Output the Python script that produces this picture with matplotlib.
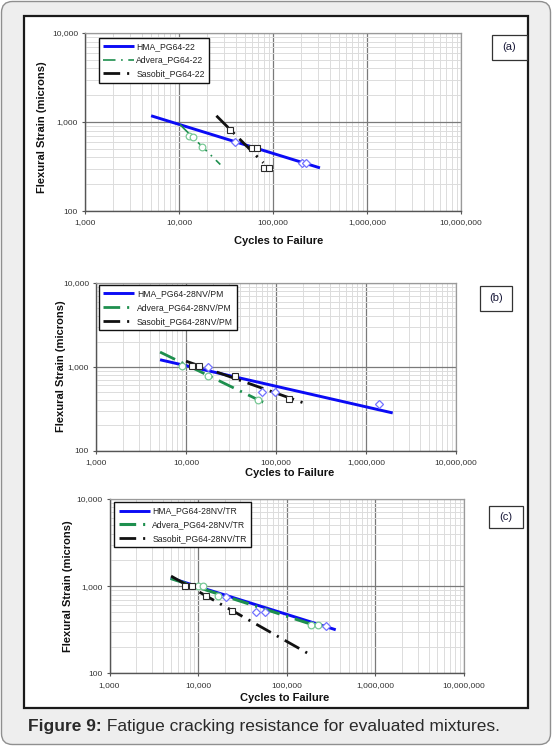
import matplotlib
matplotlib.use('Agg')
import matplotlib.pyplot as plt
from matplotlib.patches import FancyBboxPatch, Rectangle
from matplotlib.ticker import LogLocator, FuncFormatter, NullFormatter
from matplotlib.font_manager import FontProperties, fontManager

# ---------------- data ----------------
# panel (a)
a_hma_line_x = [5050, 316000]
a_hma_line_y = [1175, 305]
a_hma_pts_x = [39300, 202000, 224000]
a_hma_pts_y = [603, 348, 348]
a_adv_line_x = [10240, 27500]
a_adv_line_y = [935, 333]
a_adv_pts_x = [12700, 14200, 17700]
a_adv_pts_y = [705, 674, 521]
a_sas_line_x = [25000, 78900]
a_sas_line_y = [1175, 348]
a_sas_pts_x = [35200, 59400, 68000, 79500, 89800]
a_sas_pts_y = [822, 508, 508, 304, 304]
a_labels = ["HMA_PG64-22", "Advera_PG64-22", "Sasobit_PG64-22"]

# panel (b)
b_hma_line_x = [5150, 1980000]
b_hma_line_y = [1215, 282]
b_hma_pts_x = [17400, 70400, 96600, 1377000]
b_hma_pts_y = [1000, 499, 499, 356]
b_adv_line_x = [5150, 78400]
b_adv_line_y = [1500, 362]
b_adv_pts_x = [9100, 17700, 63100]
b_adv_pts_y = [1030, 778, 407]
b_sas_line_x = [10000, 202000]
b_sas_line_y = [1170, 372]
b_sas_pts_x = [11600, 14100, 34600, 141000]
b_sas_pts_y = [1030, 1030, 778, 412]
b_labels = ["HMA_PG64-28NV/PM", "Advera_PG64-28NV/PM", "Sasobit_PG64-28NV/PM"]

# panel (c)
c_hma_line_x = [4900, 357000]
c_hma_line_y = [1240, 316]
c_hma_pts_x = [20500, 45100, 56800, 279000]
c_hma_pts_y = [745, 499, 499, 345]
c_adv_line_x = [4900, 226000]
c_adv_line_y = [1225, 345]
c_adv_pts_x = [10070, 11460, 16900, 187000, 226000]
c_adv_pts_y = [1005, 1005, 767, 355, 355]
c_sas_line_x = [4950, 172000]
c_sas_line_y = [1305, 170]
c_sas_pts_x = [7020, 8570, 12300, 24200]
c_sas_pts_y = [1009, 1009, 767, 512]
c_labels = ["HMA_PG64-28NV/TR", "Advera_PG64-28NV/TR", "Sasobit_PG64-28NV/TR"]

x_label = "Cycles to Failure"
y_label = "Flexural Strain (microns)"
caption_bold = "Figure 9:"
caption_rest = " Fatigue cracking resistance for evaluated mixtures."

# ---------------- style ----------------
W, H = 552, 746
plt.rcParams['font.family'] = ['Liberation Sans', 'DejaVu Sans']
plt.rcParams['lines.scale_dashes'] = False

installed = {f.name for f in fontManager.ttflist}
if 'Liberation Sans Narrow' in installed:
    leg_prop = FontProperties(family=['Liberation Sans Narrow', 'Liberation Sans'], size=6.8)
else:
    leg_prop = FontProperties(family=['Liberation Sans'], size=6.2)

BLUE = '#0b0bf5'
BLUE_M = '#7272ff'
GREEN = '#1e8f4e'
GREEN_M = '#79c996'
BLACK = '#111111'
SQ = '#2a2a2a'

fig = plt.figure(figsize=(W / 100, H / 100), dpi=100)
fig.patch.set_facecolor('white')

card = FancyBboxPatch((1.5 / 100, 1.5 / 100), (W - 3) / 100, (H - 3) / 100,
                      boxstyle='round,pad=0,rounding_size=0.11',
                      transform=fig.dpi_scale_trans, fc='#eeeeee', ec='#8f8f8f',
                      lw=1.0, zorder=-3)
frame = Rectangle((24 / 100, (H - 708) / 100), (527.5 - 24) / 100, (708 - 15.5) / 100,
                  transform=fig.dpi_scale_trans, fc='white', ec='#1a1a1a',
                  lw=1.6, zorder=-2)
fig.patches.extend([card, frame])


def px_rect(l, t, r, b):
    return [l / W, 1 - b / H, (r - l) / W, (b - t) / H]


panels = [
    dict(rect=(85, 33, 461, 211),
         hma=(a_hma_line_x, a_hma_line_y, a_hma_pts_x, a_hma_pts_y),
         adv=(a_adv_line_x, a_adv_line_y, a_adv_pts_x, a_adv_pts_y),
         sas=(a_sas_line_x, a_sas_line_y, a_sas_pts_x, a_sas_pts_y),
         labels=a_labels, green_lw=1.2, green_dash=(0, (9, 4, 1.2, 4)),
         leg=(98.5, 37.5), box=(491.5, 35, 527, 60), tag="(a)",
         xl=(279, 241), yl=(42, 127)),
    dict(rect=(96, 283, 456, 450.7),
         hma=(b_hma_line_x, b_hma_line_y, b_hma_pts_x, b_hma_pts_y),
         adv=(b_adv_line_x, b_adv_line_y, b_adv_pts_x, b_adv_pts_y),
         sas=(b_sas_line_x, b_sas_line_y, b_sas_pts_x, b_sas_pts_y),
         labels=b_labels, green_lw=2.0, green_dash=(0, (12, 5, 1.5, 5)),
         leg=(99, 285), box=(480, 286, 511.7, 310.7), tag="(b)",
         xl=(290, 473), yl=(61, 366)),
    dict(rect=(109.5, 499, 464, 673.3),
         hma=(c_hma_line_x, c_hma_line_y, c_hma_pts_x, c_hma_pts_y),
         adv=(c_adv_line_x, c_adv_line_y, c_adv_pts_x, c_adv_pts_y),
         sas=(c_sas_line_x, c_sas_line_y, c_sas_pts_x, c_sas_pts_y),
         labels=c_labels, green_lw=2.2, green_dash=(0, (12, 5, 1.5, 5)),
         leg=(114.3, 502.3), box=(489.4, 505.6, 523, 528.2), tag="(c)",
         xl=(285, 698), yl=(68, 586)),
]

fmt = FuncFormatter(lambda v, p: f"{int(round(v)):,}")

for P in panels:
    l, t, r, b = P['rect']
    ax = fig.add_axes(px_rect(l, t, r, b))
    ax.set_xscale('log')
    ax.set_yscale('log')
    ax.set_xlim(1e3, 1e7)
    ax.set_ylim(100, 10000)
    ax.set_facecolor('white')
    ax.xaxis.set_major_locator(LogLocator(base=10, numticks=10))
    ax.yaxis.set_major_locator(LogLocator(base=10, numticks=10))
    ax.xaxis.set_minor_locator(LogLocator(base=10, subs=range(2, 10), numticks=20))
    ax.yaxis.set_minor_locator(LogLocator(base=10, subs=range(2, 10), numticks=20))
    ax.xaxis.set_major_formatter(fmt)
    ax.yaxis.set_major_formatter(fmt)
    ax.xaxis.set_minor_formatter(NullFormatter())
    ax.yaxis.set_minor_formatter(NullFormatter())
    ax.tick_params(which='major', direction='out', length=2.5, width=0.8,
                   color='#555555', labelsize=6, labelcolor='#333333')
    ax.tick_params(axis='x', which='major', pad=3.5)
    ax.tick_params(axis='y', which='major', pad=2.5)
    ax.tick_params(which='minor', length=0)
    ax.grid(which='minor', color='#dcdcdc', lw=0.7)
    ax.grid(which='major', color='#7a7a7a', lw=0.9)
    ax.set_axisbelow(True)
    for s in ('left', 'bottom'):
        ax.spines[s].set_color('#555555')
        ax.spines[s].set_linewidth(1.0)
    for s in ('top', 'right'):
        ax.spines[s].set_color('#9a9a9a')
        ax.spines[s].set_linewidth(0.9)

    hx, hy, hpx, hpy = P['hma']
    gx, gy, gpx, gpy = P['adv']
    sx, sy, spx, spy = P['sas']
    l1, = ax.plot(hx, hy, color=BLUE, lw=2.1, solid_capstyle='butt',
                  label=P['labels'][0], zorder=3)
    l2, = ax.plot(gx, gy, color=GREEN, lw=P['green_lw'], linestyle=P['green_dash'],
                  dash_capstyle='butt', label=P['labels'][1], zorder=3)
    l3, = ax.plot(sx, sy, color=BLACK, lw=2.0, linestyle=(0, (12, 5, 1.5, 5)),
                  dash_capstyle='butt', label=P['labels'][2], zorder=3)
    ax.plot(hpx, hpy, linestyle='none', marker='D', ms=4.2, mfc='white',
            mec=BLUE_M, mew=0.9, zorder=4)
    ax.plot(gpx, gpy, linestyle='none', marker='o', ms=4.8, mfc='white',
            mec=GREEN_M, mew=0.9, zorder=4)
    ax.plot(spx, spy, linestyle='none', marker='s', ms=5.0, mfc='white',
            mec=SQ, mew=0.8, zorder=4)

    lx, ly = P['leg']
    leg = ax.legend(handles=[l1, l2, l3], loc='upper left',
                    bbox_to_anchor=(lx / 100, (H - ly) / 100),
                    bbox_transform=fig.dpi_scale_trans, borderaxespad=0,
                    prop=leg_prop, handlelength=3.6, handletextpad=0.3,
                    borderpad=0.5, labelspacing=0.55, fancybox=False,
                    framealpha=1, edgecolor='#111111')
    leg.get_frame().set_linewidth(1.0)
    for txt in leg.get_texts():
        txt.set_color('#222222')

    # axis labels
    ax.set_xlabel(x_label, fontsize=8, fontweight='bold', color='#111111')
    ax.set_ylabel(y_label, fontsize=8, fontweight='bold', color='#111111')
    xlx, xly = P['xl']
    ax.xaxis.set_label_coords((xlx - l) / (r - l), (b - xly) / (b - t))
    ax.xaxis.label.set_va('center')
    ylx, yly = P['yl']
    ax.yaxis.set_label_coords((ylx - l) / (r - l), (b - yly) / (b - t))
    ax.yaxis.label.set_va('center')

    # tag box
    bl, bt, br, bb = P['box']
    fig.patches.append(Rectangle((bl / 100, (H - bb) / 100), (br - bl) / 100, (bb - bt) / 100,
                                 transform=fig.dpi_scale_trans, fc='white', ec='#333333',
                                 lw=0.9, zorder=5))
    fig.text((bl + br) / 2 / W, 1 - (bt + bb) / 2 / H, P['tag'], ha='center', va='center',
             fontsize=8, color='#1a1a3a', zorder=6)

# caption
t1 = fig.text(28 / W, 1 - 726 / H, caption_bold, ha='left', va='center',
              fontsize=12.5, fontweight='bold', color='#2a2a2a')
fig.canvas.draw()
bb1 = t1.get_window_extent()
fig.text(bb1.x1 / W, 1 - 726 / H, caption_rest, ha='left', va='center',
         fontsize=12.5, color='#2a2a2a')

fig.savefig('out.png', dpi=100)
